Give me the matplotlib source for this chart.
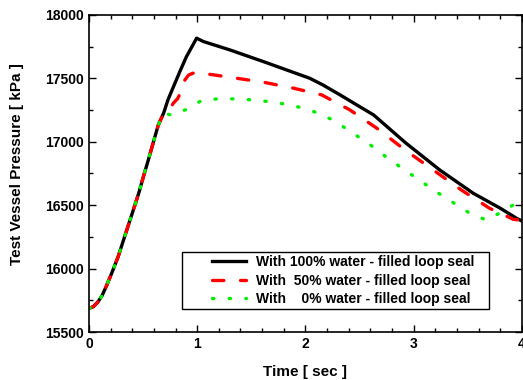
import numpy as np
import matplotlib.pyplot as plt
from matplotlib.ticker import MultipleLocator
from matplotlib.patches import Rectangle

# --- data ---
# common rise (all three cases overlap until ~0.69 s)
t_rise = [0.0, 0.04, 0.08, 0.12, 0.16, 0.21, 0.27, 0.31, 0.36, 0.41, 0.46, 0.50, 0.55,
          0.60, 0.64, 0.69]
p_rise = [15687, 15700, 15735, 15785, 15860, 15963, 16094, 16200, 16331, 16462, 16594,
          16715, 16860, 17010, 17130, 17225]

t_100 = t_rise + [0.73, 0.84, 0.90, 0.995, 1.056, 1.30, 1.61, 2.04, 2.16, 2.32, 2.50,
                  2.63, 2.93, 3.24, 3.55, 3.80, 3.95, 4.0]
p_100 = p_rise + [17330, 17553, 17669, 17816, 17790, 17724, 17632, 17500, 17448, 17369, 17277,
                  17211, 16988, 16778, 16594, 16476, 16397, 16375]

t_50 = t_rise + [0.75, 0.78, 0.82, 0.86, 0.887, 0.92, 0.96, 1.04, 1.15, 1.36, 1.63, 1.89,
                 2.15, 2.41, 2.66, 2.92, 3.18, 3.44, 3.70, 3.92, 3.96, 3.99]
p_50 = p_rise + [17264, 17304, 17340, 17409, 17487, 17525, 17540, 17540, 17527, 17501, 17466,
                 17422, 17369, 17251, 17106, 16935, 16778, 16620, 16476, 16389, 16385, 16425]

t_0 = t_rise + [0.76, 0.89, 1.04, 1.19, 1.35, 1.50, 1.66, 1.82, 1.97, 2.12, 2.27, 2.43,
                2.58, 2.73, 2.89, 3.05, 3.20, 3.36, 3.51, 3.67, 3.83, 4.0]
p_0 = p_rise + [17211, 17251, 17324, 17338, 17338, 17330, 17316, 17296, 17267, 17225, 17164,
                17072, 16988, 16890, 16793, 16699, 16610, 16523, 16441, 16383, 16454, 16545]

labels = ["With 100% water - filled loop seal",
          "With  50% water - filled loop seal",
          "With    0% water - filled loop seal"]

plt.rcParams['font.family'] = ['Liberation Sans', 'DejaVu Sans']
plt.rcParams['font.weight'] = 'bold'

fig = plt.figure(figsize=(5.23, 3.80), dpi=100)
ax = fig.add_axes([0.170, 0.126, 0.828, 0.835])

ax.plot(t_100, p_100, color='black', lw=2.4, label=labels[0])
ax.plot(t_50, p_50, color='red', lw=2.4, dashes=(3.4, 5.0), dash_capstyle='round',
        label=labels[1])
ax.plot(t_0, p_0, color='#00ee00', lw=2.4, dashes=(0.4, 4.6), dash_capstyle='round',
        label=labels[2])

ax.set_xlim(0, 4)
ax.set_ylim(15500, 18000)
ax.xaxis.set_major_locator(MultipleLocator(1))
ax.xaxis.set_minor_locator(MultipleLocator(0.2))
ax.yaxis.set_major_locator(MultipleLocator(500))
ax.yaxis.set_minor_locator(MultipleLocator(250))
ax.tick_params(which='both', direction='in', top=True, right=True,
               labelsize=10, width=1)
ax.tick_params(which='major', length=5)
ax.tick_params(which='minor', length=3)
for s in ax.spines.values():
    s.set_linewidth(1.2)

ax.set_xlabel('Time [ sec ]', fontsize=11, fontweight='bold', labelpad=10)
ax.set_ylabel('Test Vessel Pressure [ kPa ]', fontsize=11, fontweight='bold')
ax.yaxis.set_label_coords(-0.151, 0.53)

# legend without its own frame, boxed by hand (box is wider than the entries)
leg = ax.legend(loc='center left', bbox_to_anchor=(0.268, 0.162), fontsize=10,
                frameon=False, handlelength=2.45, handletextpad=0.75,
                borderpad=0.0, labelspacing=0.32)
ax.add_patch(Rectangle((0.215, 0.0726), 0.709, 0.18, transform=ax.transAxes,
                       fill=False, edgecolor='black', lw=1.0, zorder=5))

fig.savefig('out.png', dpi=100)
